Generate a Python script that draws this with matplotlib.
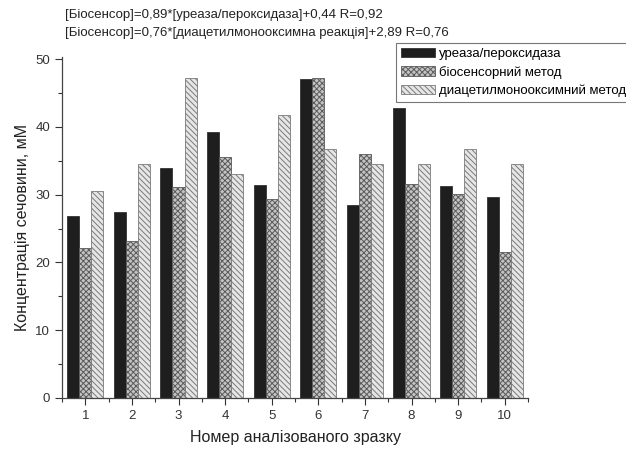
import numpy as np
import matplotlib
matplotlib.use('Agg')
import matplotlib.pyplot as plt
from matplotlib.ticker import MultipleLocator

plt.rcParams['font.family'] = ['Liberation Sans', 'DejaVu Sans']
plt.rcParams['hatch.linewidth'] = 0.7

samples = [1, 2, 3, 4, 5, 6, 7, 8, 9, 10]
urease = [26.9, 27.4, 34.0, 39.2, 31.4, 47.0, 28.5, 42.8, 31.3, 29.7]
biosensor = [22.1, 23.2, 31.1, 35.5, 29.4, 47.2, 36.0, 31.5, 30.1, 21.6]
diacetyl = [30.5, 34.5, 47.2, 33.0, 41.8, 36.7, 34.5, 34.5, 36.7, 34.5]
labels = ['уреаза/пероксидаза', 'біосенсорний метод', 'диацетилмонооксимний метод']
eq1 = '[Біосенсор]=0,89*[уреаза/пероксидаза]+0,44 R=0,92'
eq2 = '[Біосенсор]=0,76*[диацетилмонооксимна реакція]+2,89 R=0,76'

fig = plt.figure(figsize=(6.26, 4.49), dpi=100)
ax = fig.add_axes([62/626, 1-398/449, (528-62)/626, (398-57)/449])

x = np.array(samples)
w = 0.26
ax.bar(x - w, urease, w, color='#1e1e1e', edgecolor='#333333', linewidth=0.6, label=labels[0])
ax.bar(x, biosensor, w, color='#c4c4c4', edgecolor='#5a5a5a', hatch='xxxxxx', linewidth=0.6, label=labels[1])
ax.bar(x + w, diacetyl, w, color='#e6e6e6', edgecolor='#7a7a7a', hatch='\\\\\\\\\\\\', linewidth=0.6, label=labels[2])

ax.set_xlim(0.5, 10.5)
ax.set_ylim(0, 50.3)
ax.set_xticks(samples)
ax.xaxis.set_minor_locator(MultipleLocator(1, offset=0.5))
ax.yaxis.set_major_locator(MultipleLocator(10))
ax.yaxis.set_minor_locator(MultipleLocator(5))
ax.tick_params(axis='both', which='major', direction='out', length=5, width=0.8, labelsize=9.5, colors='#333333')
ax.tick_params(axis='both', which='minor', direction='out', length=3, width=0.8, colors='#333333')
for s in ['top', 'right']:
    ax.spines[s].set_visible(False)
for s in ['left', 'bottom']:
    ax.spines[s].set_color('#444444')
    ax.spines[s].set_linewidth(0.9)

ax.set_xlabel('Номер аналізованого зразку', fontsize=11.5, color='#222222', labelpad=6)
ax.set_ylabel('Концентрація сечовини, мМ', fontsize=11.5, color='#222222', labelpad=4)

leg = fig.legend(loc='upper left', bbox_to_anchor=(396/626, 1-43/449), fontsize=9.5,
                 frameon=True, fancybox=False, borderpad=0.35, labelspacing=0.45,
                 handlelength=2.6, handletextpad=0.3, borderaxespad=0)
leg.get_frame().set_edgecolor('#555555')
leg.get_frame().set_linewidth(0.8)

fig.text(65/626, 1-15/449, eq1, fontsize=9.5, color='#222222', va='center')
fig.text(65/626, 1-33/449, eq2, fontsize=9.5, color='#222222', va='center')

fig.savefig('out.png', dpi=100)
